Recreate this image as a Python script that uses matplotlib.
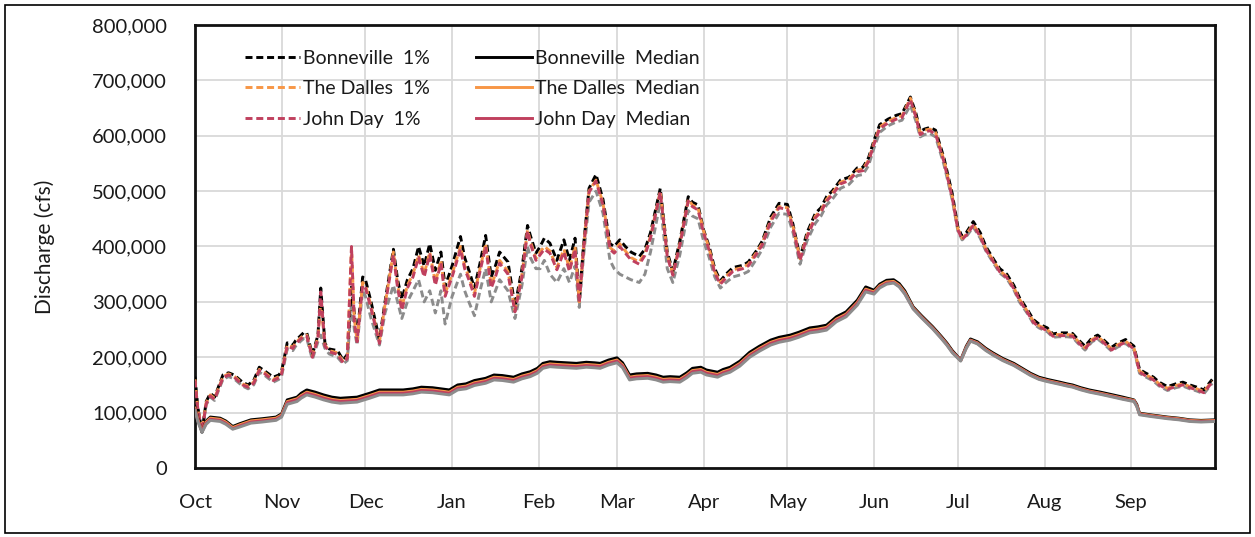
import matplotlib
matplotlib.use("Agg")
import matplotlib.pyplot as plt
from matplotlib.patches import Rectangle
from matplotlib.ticker import FuncFormatter, MultipleLocator

plt.rcParams['font.family'] = ['Lato', 'DejaVu Sans']

# ---------------- data (day of water year, thousand cfs) ----------------
month_labels = ["Oct", "Nov", "Dec", "Jan", "Feb", "Mar", "Apr", "May", "Jun", "Jul", "Aug", "Sep"]
month_starts = [0, 31, 61, 92, 123, 151, 182, 212, 243, 273, 304, 335]

days_p = [0, 1, 2.5, 4, 5.5, 7, 10, 12, 14, 17,
          19, 21, 23, 25, 28, 30, 31, 33, 35, 36,
          38, 39, 40, 42, 44, 45, 46.5, 48, 51, 53,
          54.5, 56, 57, 58, 60, 61, 63, 66, 68, 71,
          72.5, 74, 76, 78, 80, 82, 84, 86, 88, 89.5,
          92, 95, 96.5, 98, 100, 102, 104, 106, 107.5, 109,
          112, 114.5, 117, 119, 120, 122, 123.5, 125, 127, 129.5,
          132, 134, 136, 137.5, 139, 141, 143.5, 146, 148.5, 150,
          152, 154, 156, 159, 161, 163, 166.5, 169, 171, 173.5,
          176.5, 178, 180, 182, 184, 186, 188, 190, 192.5, 196,
          198, 201, 203, 206, 209, 212, 214, 216.5, 219, 222,
          224, 226, 228, 231, 234, 237, 239, 241, 243, 245,
          248, 251, 253, 256, 258, 259.5, 261, 263, 265, 268,
          271, 273, 274.5, 276, 278.5, 281, 283, 286, 288, 290.5,
          293, 295, 298, 300, 302, 305, 307, 309, 312, 314,
          316, 318.5, 321, 323, 325, 328, 330, 333, 336, 338,
          340, 343, 345, 348, 351, 353.5, 356, 358.5, 361, 364]

bonneville_1pct = [165, 110, 65, 120, 135, 128, 168, 172, 168, 155,
                   150, 158, 182, 175, 164, 168, 175, 226, 222, 230,
                   240, 245, 244, 205, 240, 325, 225, 215, 212, 195,
                   205, 330, 280, 235, 345, 340, 300, 232, 300, 395,
                   340, 305, 340, 360, 400, 365, 405, 357, 390, 328,
                   365, 418, 380, 357, 325, 370, 420, 345, 365, 390,
                   372, 292, 360, 438, 420, 388, 400, 415, 406, 375,
                   412, 375, 415, 303, 400, 505, 530, 485, 405, 400,
                   412, 400, 390, 382, 395, 425, 505, 390, 355, 410,
                   490, 480, 475, 430, 400, 360, 338, 350, 362, 366,
                   372, 393, 410, 453, 478, 476, 440, 380, 425, 460,
                   470, 490, 500, 520, 525, 542, 543, 560, 592, 620,
                   630, 637, 640, 670, 640, 608, 612, 615, 610, 560,
                   495, 435, 418, 425, 445, 425, 400, 375, 360, 350,
                   330, 308, 285, 268, 260, 253, 242, 244, 244, 243,
                   232, 220, 235, 240, 232, 218, 225, 232, 220, 178,
                   172, 164, 155, 147, 152, 155, 150, 146, 141, 160]

dalles_1pct = [160, 108, 68, 118, 132, 126, 165, 170, 166, 152,
               148, 155, 178, 172, 160, 165, 172, 222, 218, 226,
               236, 240, 240, 202, 236, 300, 222, 212, 208, 192,
               200, 398, 270, 230, 335, 330, 292, 228, 295, 390,
               330, 290, 330, 350, 385, 350, 390, 335, 375, 315,
               350, 400, 365, 345, 315, 360, 405, 330, 350, 375,
               355, 285, 350, 430, 410, 378, 390, 400, 392, 362,
               395, 360, 400, 300, 395, 500, 520, 478, 398, 392,
               405, 392, 380, 372, 388, 418, 500, 385, 350, 405,
               485, 475, 470, 428, 396, 355, 335, 346, 358, 362,
               368, 390, 406, 448, 472, 470, 436, 378, 420, 455,
               465, 485, 496, 516, 522, 538, 540, 556, 588, 616,
               626, 633, 636, 668, 636, 605, 610, 612, 606, 556,
               490, 432, 415, 422, 440, 420, 396, 372, 356, 346,
               326, 305, 282, 265, 257, 250, 240, 241, 241, 240,
               229, 217, 232, 237, 229, 215, 222, 229, 217, 175,
               169, 161, 152, 144, 149, 152, 147, 143, 138, 157]

johnday_1pct = [158, 106, 66, 116, 130, 124, 163, 168, 164, 150,
                146, 153, 176, 170, 158, 163, 170, 220, 216, 224,
                234, 238, 238, 200, 234, 318, 220, 210, 205, 190,
                198, 400, 265, 228, 330, 325, 288, 225, 292, 385,
                325, 285, 325, 345, 380, 345, 385, 330, 370, 310,
                345, 395, 360, 340, 310, 355, 400, 325, 345, 370,
                350, 282, 345, 428, 405, 375, 385, 395, 388, 358,
                390, 355, 395, 298, 392, 498, 518, 475, 395, 388,
                400, 388, 376, 368, 384, 415, 498, 382, 348, 402,
                482, 472, 466, 425, 393, 352, 332, 343, 355, 360,
                365, 387, 403, 445, 470, 467, 433, 375, 417, 452,
                462, 482, 493, 513, 519, 535, 537, 553, 585, 613,
                623, 630, 633, 665, 633, 602, 607, 609, 603, 553,
                487, 430, 413, 420, 438, 418, 394, 370, 354, 344,
                324, 303, 280, 263, 255, 248, 238, 239, 239, 238,
                227, 215, 230, 235, 227, 213, 220, 227, 215, 173,
                167, 159, 150, 142, 147, 150, 145, 141, 136, 155]

gray_1pct = [155, 104, 64, 114, 128, 122, 160, 165, 161, 148,
             143, 150, 173, 167, 155, 160, 166, 215, 212, 220,
             230, 234, 234, 196, 228, 240, 216, 206, 200, 188,
             194, 300, 250, 222, 320, 310, 270, 222, 280, 330,
             300, 270, 300, 320, 340, 300, 320, 280, 320, 260,
             310, 350, 320, 300, 275, 320, 360, 300, 320, 340,
             320, 270, 330, 400, 380, 360, 360, 375, 350, 335,
             360, 335, 365, 290, 380, 480, 500, 460, 375, 360,
             350, 345, 340, 335, 350, 390, 480, 360, 335, 385,
             465, 455, 450, 410, 380, 345, 325, 335, 345, 350,
             355, 378, 395, 435, 460, 458, 425, 368, 410, 442,
             455, 475, 485, 505, 512, 528, 530, 546, 578, 606,
             618, 625, 628, 655, 626, 598, 602, 604, 598, 548,
             484, 428, 412, 418, 435, 415, 392, 368, 352, 342,
             322, 300, 278, 261, 253, 246, 236, 237, 237, 236,
             225, 213, 228, 233, 225, 211, 218, 225, 213, 171,
             165, 157, 148, 140, 145, 148, 143, 139, 134, 153]

days_m = [0, 1, 2.5, 4, 5.5, 9, 11, 13.5, 16, 20,
          24, 29, 31, 33, 36.5, 38, 40, 43, 46, 49,
          52, 55, 58, 62.5, 66, 70, 74.5, 78, 81, 85,
          88, 91, 94, 97, 100, 104, 107, 110, 114, 117,
          120, 122.5, 124.5, 127, 129.5, 133, 136.5, 140, 143, 145,
          148, 151, 153, 155.5, 158, 162, 165, 167.5, 170, 173.5,
          176, 178, 181, 183, 185, 187, 189, 191.5, 195, 198.5,
          202, 206, 209, 213, 216, 220, 223, 226, 229.5, 233,
          237, 240, 243, 245, 247.5, 250, 252, 254, 257, 260,
          264, 267, 269, 271, 274, 276, 277.5, 280, 283, 285.5,
          289, 293, 296, 299, 302, 305, 309.5, 312, 314, 317,
          320, 324, 328.5, 332, 336, 337, 338, 342, 348, 352,
          356, 360, 365]

bonneville_median = [110, 90, 65, 85, 92, 90, 85, 75, 80, 87,
                     89, 92, 98, 123, 128, 135, 141, 137, 132, 128,
                     126, 127, 128, 135, 141, 141, 141, 143, 146, 145,
                     143, 141, 150, 152, 158, 162, 168, 167, 164, 170,
                     174, 180, 189, 192, 191, 190, 189, 191, 190, 189,
                     195, 199, 190, 168, 170, 171, 168, 164, 165, 164,
                     172, 180, 182, 177, 175, 173, 178, 182, 193, 209,
                     220, 231, 236, 240, 245, 253, 255, 258, 273, 282,
                     303, 327, 321, 332, 339, 340, 333, 320, 291, 275,
                     255, 238, 226, 212, 195, 220, 233, 228, 216, 208,
                     198, 189, 180, 171, 164, 160, 155, 152, 150, 145,
                     141, 137, 132, 128, 123, 115, 99, 96, 92, 90,
                     87, 86, 87]

dalles_median = [108, 88, 66, 83, 90, 88, 83, 73, 78, 85,
                 87, 90, 96, 120, 125, 131, 137, 133, 128, 124,
                 122, 123, 124, 131, 137, 137, 137, 139, 142, 141,
                 139, 137, 146, 148, 154, 158, 164, 163, 160, 166,
                 170, 176, 185, 188, 187, 186, 185, 187, 186, 185,
                 191, 195, 186, 164, 166, 167, 164, 160, 161, 160,
                 168, 176, 178, 173, 171, 169, 174, 178, 189, 205,
                 216, 227, 232, 236, 241, 249, 251, 254, 269, 278,
                 299, 323, 318, 329, 336, 337, 330, 317, 289, 273,
                 253, 236, 224, 210, 194, 218, 231, 226, 214, 206,
                 196, 187, 178, 169, 162, 158, 153, 150, 148, 143,
                 139, 135, 130, 126, 122, 113, 98, 95, 91, 89,
                 86, 85, 86]

johnday_median = [106, 86, 66, 81, 88, 86, 81, 71, 76, 83,
                  85, 88, 94, 118, 123, 129, 135, 131, 126, 122,
                  120, 121, 122, 129, 135, 135, 135, 137, 140, 139,
                  137, 135, 144, 146, 152, 156, 162, 161, 158, 164,
                  168, 174, 183, 186, 185, 184, 183, 185, 184, 183,
                  189, 193, 184, 162, 164, 165, 162, 158, 159, 158,
                  166, 174, 176, 171, 169, 167, 172, 176, 187, 203,
                  214, 225, 230, 234, 239, 247, 249, 252, 267, 276,
                  297, 321, 316, 327, 334, 335, 328, 315, 288, 272,
                  252, 235, 223, 209, 194, 217, 230, 225, 213, 205,
                  195, 186, 177, 168, 161, 157, 152, 149, 147, 142,
                  138, 134, 129, 125, 121, 112, 97, 94, 90, 88,
                  85, 84, 85]

gray_median = [104, 84, 64, 79, 86, 84, 79, 70, 74, 81,
               83, 86, 92, 115, 120, 126, 132, 128, 123, 119,
               117, 118, 119, 126, 132, 132, 132, 134, 137, 136,
               134, 132, 141, 143, 149, 153, 159, 158, 155, 161,
               165, 171, 180, 183, 182, 181, 180, 182, 181, 180,
               186, 190, 181, 159, 161, 162, 159, 155, 156, 155,
               163, 171, 173, 168, 166, 164, 169, 173, 184, 200,
               211, 222, 227, 231, 236, 244, 246, 249, 264, 273,
               294, 318, 314, 325, 332, 334, 327, 314, 287, 271,
               251, 234, 222, 208, 193, 216, 229, 224, 212, 204,
               194, 185, 176, 167, 160, 156, 151, 148, 146, 141,
               137, 133, 128, 124, 120, 111, 96, 93, 89, 87,
               84, 83, 84]

# ---------------- plotting ----------------
C_BON = "#000000"
C_DAL = "#F79646"
C_JD = "#C0405E"
C_GRAY = "#8C8C8C"
TXT = "#1a1a1a"

fig = plt.figure(figsize=(12.55, 5.37), dpi=100)
ax = fig.add_axes([195 / 1255, 1 - 468 / 537, 1020 / 1255, 443 / 537])

def k(vals):
    return [v * 1000 for v in vals]

dash = (2.4, 1.3)
lw = 2.1
ax.plot(days_p, k(gray_1pct), color=C_GRAY, lw=lw, dashes=dash, zorder=2)
ax.plot(days_p, k(bonneville_1pct), color=C_BON, lw=lw, dashes=dash, zorder=3, label="Bonneville  1%")
ax.plot(days_p, k(dalles_1pct), color=C_DAL, lw=lw, dashes=dash, zorder=3, label="The Dalles  1%")
ax.plot(days_p, k(johnday_1pct), color=C_JD, lw=lw, dashes=dash, zorder=3, label="John Day  1%")

ax.plot(days_m, k(bonneville_median), color=C_BON, lw=lw, zorder=3, label="Bonneville  Median")
ax.plot(days_m, k(dalles_median), color=C_DAL, lw=lw, zorder=3, label="The Dalles  Median")
ax.plot(days_m, k(johnday_median), color=C_JD, lw=lw, zorder=3, label="John Day  Median")
ax.plot(days_m, k(gray_median), color=C_GRAY, lw=lw, zorder=3)

ax.set_xlim(0, 365)
ax.set_ylim(0, 800000)
ax.set_xticks(month_starts)
ax.set_xticklabels(month_labels)
ax.yaxis.set_major_locator(MultipleLocator(100000))
ax.yaxis.set_major_formatter(FuncFormatter(lambda v, p: f"{int(v):,}"))
ax.tick_params(axis="both", length=0, labelsize=14.5, colors=TXT)
ax.tick_params(axis="x", pad=19)
ax.tick_params(axis="y", pad=20)
ax.grid(True, color="#d9d9d9", lw=1.3)
ax.set_axisbelow(True)
for s in ax.spines.values():
    s.set_linewidth(2.0)
    s.set_color("#111111")

ax.set_ylabel("Discharge (cfs)", fontsize=15, color=TXT)
ax.yaxis.set_label_coords(-0.137, 0.5)

leg = ax.legend(ncol=2, loc="upper left", bbox_to_anchor=(0.041, 0.962), frameon=False,
                fontsize=14, handlelength=2.85, handletextpad=0.15, columnspacing=2.4,
                labelspacing=0.7, borderaxespad=0.0)
for t in leg.get_texts():
    t.set_color(TXT)

fig.patches.append(Rectangle((5 / 1255, 4 / 537), 1245 / 1255, 528 / 537, transform=fig.transFigure,
                             fill=False, edgecolor="black", lw=1.2))

fig.savefig("out.png", dpi=100)
